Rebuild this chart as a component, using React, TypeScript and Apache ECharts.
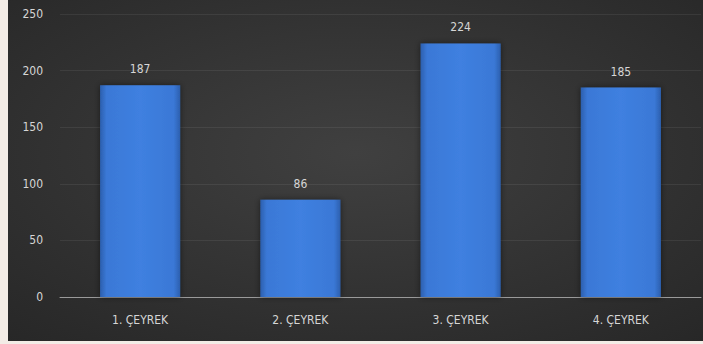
import React, { useEffect, useRef } from "react";
import * as echarts from "echarts";

const categories = ["1. ÇEYREK", "2. ÇEYREK", "3. ÇEYREK", "4. ÇEYREK"];
const values = [187, 86, 224, 185];
const yTicks = [0, 50, 100, 150, 200, 250];

export default function App() {
  const ref = useRef<HTMLDivElement>(null);
  useEffect(() => {
    document.body.style.margin = "0";
    const chart = echarts.init(ref.current!, null, { renderer: "svg" });
    const font = "'DejaVu Sans Condensed', 'DejaVu Sans', sans-serif";
    chart.setOption({
      animation: false,
      backgroundColor: {
        type: "radial",
        x: 0.5,
        y: 0.45,
        r: 0.75,
        colorStops: [
          { offset: 0, color: "#404040" },
          { offset: 1, color: "#272727" },
        ],
      },
      grid: { left: 52, right: 2, top: 14, bottom: 44 },
      xAxis: {
        type: "category",
        data: categories,
        axisLine: { lineStyle: { color: "#9a9a9a", width: 1 } },
        axisTick: { show: false },
        axisLabel: { color: "#d6d6d6", fontSize: 12, fontFamily: font, margin: 17 },
      },
      yAxis: {
        type: "value",
        min: yTicks[0],
        max: yTicks[yTicks.length - 1],
        interval: 50,
        axisLine: { show: false },
        axisTick: { show: false },
        axisLabel: { color: "#d6d6d6", fontSize: 12, fontFamily: font, margin: 17 },
        splitLine: { lineStyle: { color: "rgba(255,255,255,0.07)", width: 1 } },
      },
      series: [
        {
          type: "bar",
          data: values,
          barWidth: "50%",
          itemStyle: {
            color: {
              type: "linear",
              x: 0,
              y: 0,
              x2: 1,
              y2: 0,
              colorStops: [
                { offset: 0, color: "#2c5fae" },
                { offset: 0.08, color: "#3a78d6" },
                { offset: 0.5, color: "#3f80e0" },
                { offset: 0.92, color: "#3a78d6" },
                { offset: 1, color: "#2c5fae" },
              ],
            },
            shadowColor: "rgba(0,0,0,0.5)",
            shadowBlur: 6,
          },
          label: {
            show: true,
            position: "top",
            distance: 10,
            color: "#d6d6d6",
            fontSize: 12,
            fontFamily: font,
          },
        },
      ],
    });
    return () => chart.dispose();
  }, []);
  return (
    <div style={{ position: "relative", width: 703, height: 344, background: "#f3ece6" }}>
      <div ref={ref} style={{ position: "absolute", left: 8, top: 0, width: 695, height: 341 }} />
    </div>
  );
}
